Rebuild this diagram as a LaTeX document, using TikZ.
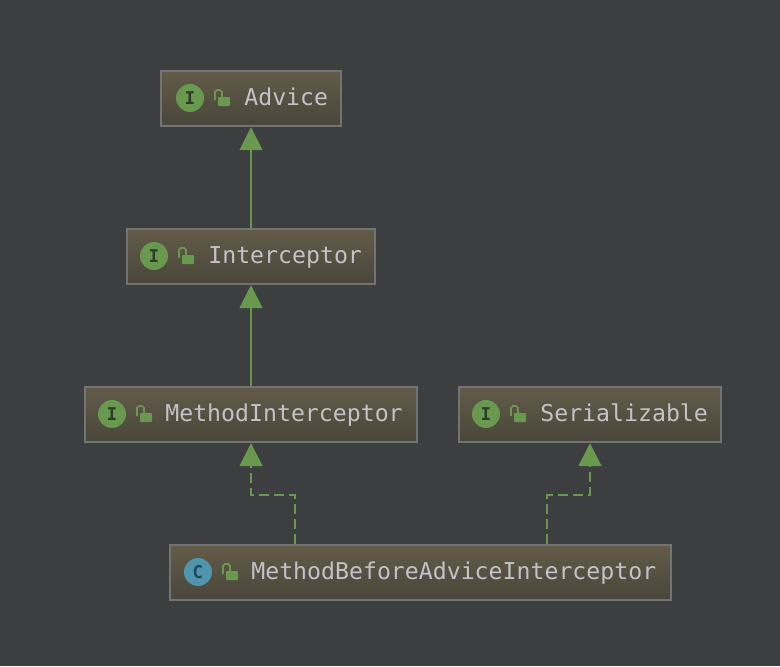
\documentclass[tikz,border=0pt]{standalone}
\usepackage{fontspec}
\setmonofont{DejaVu Sans Mono}
\usetikzlibrary{arrows.meta}
\definecolor{bgdark}{HTML}{3D3E40}
\definecolor{boxtop}{HTML}{625B49}
\definecolor{boxbot}{HTML}{49463A}
\definecolor{boxline}{HTML}{727373}
\definecolor{umlgreen}{HTML}{69994F}
\definecolor{labelgray}{HTML}{C2C2C8}
\definecolor{icondark}{HTML}{2C3D2B}
\definecolor{classblue}{HTML}{4F95AE}
\definecolor{classdark}{HTML}{24465A}
\tikzset{
  umlbox/.style={draw=boxline, line width=1.4pt, top color=boxtop, bottom color=boxbot,
    minimum height=1.1cm, inner sep=0pt},
  badge/.style={circle, fill=umlgreen, minimum size=0.56cm, inner sep=0pt, text=icondark,
    font=\ttfamily\bfseries\fontsize{10}{10}\selectfont},
  umltext/.style={anchor=west, inner sep=0pt, text=labelgray, text height=0.3cm, text depth=0pt,
    font=\ttfamily\fontsize{13.2}{13.2}\selectfont},
  extends/.style={umlgreen, line width=1pt, -{Triangle[length=0.46cm, width=0.46cm]}},
  implements/.style={extends, dash pattern=on 0.2cm off 0.1cm},
  lockicon/.pic={
    \draw[umlgreen, line width=1pt, rounded corners=1pt] (-7,2) -- (-7,-8) -- (0,-8) -- (0,-1);
    \fill[umlgreen, rounded corners=0.5pt] (-4,-1) rectangle (8,8);
  }
}
\begin{document}
\begin{tikzpicture}[x=0.02cm, y=-0.02cm]
  \fill[bgdark] (0,0) rectangle (780,666);
  % boxes
  \node[umlbox, minimum width=3.6cm] (advice) at (251,98.5) {};
  \node[umlbox, minimum width=4.96cm] (interceptor) at (251,256.5) {};
  \node[umlbox, minimum width=6.64cm] (methodint) at (251,414.5) {};
  \node[umlbox, minimum width=5.24cm] (serial) at (590,414.5) {};
  \node[umlbox, minimum width=10.02cm] (beforeint) at (420.5,572.5) {};
  % icons and names
  \node[badge] (adviceicon) at (190,98) {I};
  \pic at (222,98) {lockicon};
  \node[umltext] (advicename) at (244,98) {Advice};
  \node[badge] (intericon) at (154,256) {I};
  \pic at (186,256) {lockicon};
  \node[umltext] (intername) at (208,256) {Interceptor};
  \node[badge] (methodicon) at (112,414) {I};
  \pic at (144,414) {lockicon};
  \node[umltext] (methodname) at (165,414) {MethodInterceptor};
  \node[badge] (serialicon) at (486,414) {I};
  \pic at (518,414) {lockicon};
  \node[umltext] (serialname) at (540,414) {Serializable};
  \node[badge, fill=classblue, text=classdark] (beforeicon) at (198,572) {C};
  \pic at (230,572) {lockicon};
  \node[umltext] (beforename) at (251,572) {MethodBeforeAdviceInterceptor};
  % connectors
  \coordinate (beforeleft) at (295,544);
  \coordinate (beforeright) at (547,544);
  \draw[extends] (interceptor.north) -- (advice.south);
  \draw[extends] (methodint.north) -- (interceptor.south);
  \draw[implements] (beforeleft) -- (295,495) -- (251,495) -- (methodint.south);
  \draw[implements] (beforeright) -- (547,495) -- (590,495) -- (serial.south);
\end{tikzpicture}
\end{document}
